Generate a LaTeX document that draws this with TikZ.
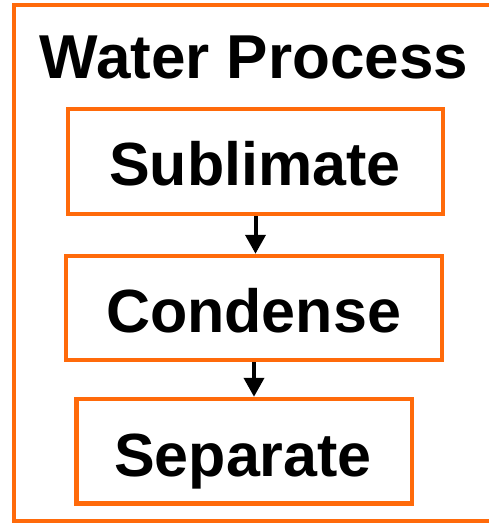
\documentclass[tikz,border=0pt]{standalone}
\usepackage{fontspec}
\setmainfont{Liberation Sans}
\usetikzlibrary{arrows.meta}
\definecolor{procorange}{HTML}{FF6A0A}
\begin{document}
\begin{tikzpicture}[x=1pt,y=-1pt,
  framebox/.style={draw=procorange,line width=4.5pt},
  stepbox/.style={draw=procorange,line width=4.5pt,fill=white,inner sep=0pt},
  steptext/.style={font=\fontsize{61}{61}\bfseries,inner sep=0pt,text height=44pt,text depth=0pt},
  titletext/.style={inner sep=0pt,font=\fontsize{62}{62}\bfseries,text height=45pt,text depth=0pt},
  flow/.style={draw=black,line width=4pt,-{Triangle[width=20pt,length=19pt]}}]
\useasboundingbox (0,0) rectangle (489,525);
\clip (0,0) rectangle (489,525);
\fill[white] (0,0) rectangle (489,525);
\draw[framebox] (14,5) rectangle (500,521);
\node[titletext] (title) at (254,56) {Water Process};
\node[stepbox,minimum width=375pt,minimum height=105pt] (sub) at (255.5,161.5) {};
\node[steptext] (subt) at (255,163.5) {Sublimate};
\node[stepbox,minimum width=376pt,minimum height=104pt] (con) at (254,308) {};
\node[steptext] (cont) at (253.5,310) {Condense};
\node[stepbox,minimum width=335.5pt,minimum height=104.5pt] (sep) at (244,451.25) {};
\node[steptext] (sept) at (243,454) {Separate};
\draw[flow] (sub.south) -- (sub.south |- con.north);
\draw[flow] (con.south) -- (con.south |- sep.north);
\end{tikzpicture}
\end{document}
